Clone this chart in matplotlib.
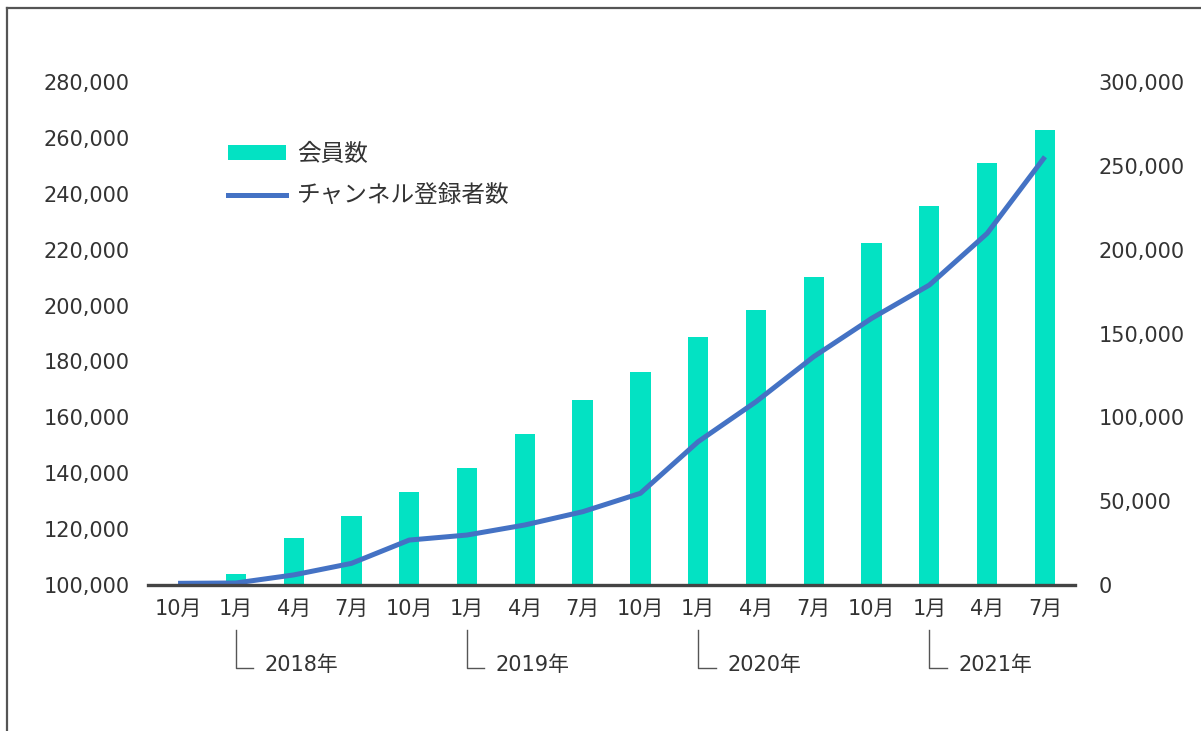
import numpy as np
import matplotlib
matplotlib.use("Agg")
import matplotlib.pyplot as plt
from matplotlib.ticker import FuncFormatter, MultipleLocator
from matplotlib.lines import Line2D
from matplotlib.patches import Patch
from matplotlib.transforms import blended_transform_factory

plt.rcParams['font.family'] = ['DejaVu Sans', 'Noto Sans CJK JP']

# data
months = ['10月', '1月', '4月', '7月', '10月', '1月', '4月', '7月',
          '10月', '1月', '4月', '7月', '10月', '1月', '4月', '7月']
members = [100000, 103800, 116700, 124700, 133200, 141800, 154000, 166200,
           176300, 188600, 198400, 210100, 222300, 235700, 250900, 263000]
subscribers = [1000, 1200, 6000, 12900, 26800, 29800, 35800, 43700,
               54700, 85500, 109300, 136200, 159000, 178900, 209700, 255400]
year_labels = ['2018年', '2019年', '2020年', '2021年']
year_pos = [1, 5, 9, 13]

bar_color = '#03E2C3'
line_color = '#4472C4'
text_color = '#333333'

W, H = 1201, 731
fig = plt.figure(figsize=(W / 100, H / 100), dpi=100)
ax = fig.add_axes([148 / W, 1 - 585 / H, (1075 - 148) / W, (585 - 82) / H])
ax2 = ax.twinx()

x = np.arange(len(months))
ax.bar(x, np.array(members) - 100000, bottom=100000, width=0.35,
       color=bar_color, zorder=2)
ax2.plot(x, subscribers, color=line_color, lw=3.6, solid_capstyle='butt',
         solid_joinstyle='round', zorder=3)

ax.set_xlim(-0.52, len(months) - 0.48)
ax.set_ylim(100000, 280000)
ax2.set_ylim(0, 300000)
ax.yaxis.set_major_locator(MultipleLocator(20000))
ax2.yaxis.set_major_locator(MultipleLocator(50000))
fmt = FuncFormatter(lambda v, p: f'{int(v):,}')
ax.yaxis.set_major_formatter(fmt)
ax2.yaxis.set_major_formatter(fmt)

ax.set_xticks(x)
ax.set_xticklabels(months)

for a in (ax, ax2):
    for s in a.spines.values():
        s.set_visible(False)
    a.tick_params(length=0, labelsize=15, colors=text_color)
ax.tick_params(axis='y', pad=13)
ax2.tick_params(axis='y', pad=17)
ax.tick_params(axis='x', pad=10)

# bars behind the line
ax.set_zorder(ax2.get_zorder() - 1)
ax2.patch.set_visible(False)

ax2.axhline(0, color='#444444', lw=2.4, zorder=4, clip_on=False)

# year brackets below the month labels
tr = blended_transform_factory(ax.transData, fig.transFigure)
for pos, lab in zip(year_pos, year_labels):
    y_top = 1 - 630 / H
    y_bot = 1 - 668 / H
    fig.add_artist(Line2D([pos, pos, pos + 0.3], [y_top, y_bot, y_bot],
                          transform=tr, color='#555555', lw=1.0))
    fig.text(pos + 0.5, 1 - 665 / H, lab, transform=tr, fontsize=15,
             color=text_color, va='center', ha='left')

handles = [Patch(facecolor=bar_color, edgecolor='none'),
           Line2D([0], [0], color=line_color, lw=3.6)]
fig.legend(handles, ['会員数', 'チャンネル登録者数'], loc='upper left',
           bbox_to_anchor=(207 / W, 1 - 121 / H), frameon=False,
           fontsize=17, handlelength=2.45, handleheight=0.6,
           handletextpad=0.45, labelspacing=0.75, labelcolor=text_color)

# outer frame (top and left edges)
fig.add_artist(Line2D([6.5 / W, 1], [1 - 8 / H, 1 - 8 / H],
                      transform=fig.transFigure, color='#555555', lw=1.6))
fig.add_artist(Line2D([6.5 / W, 6.5 / W], [0, 1 - 8 / H],
                      transform=fig.transFigure, color='#555555', lw=1.6))

fig.savefig('out.png', dpi=100)
